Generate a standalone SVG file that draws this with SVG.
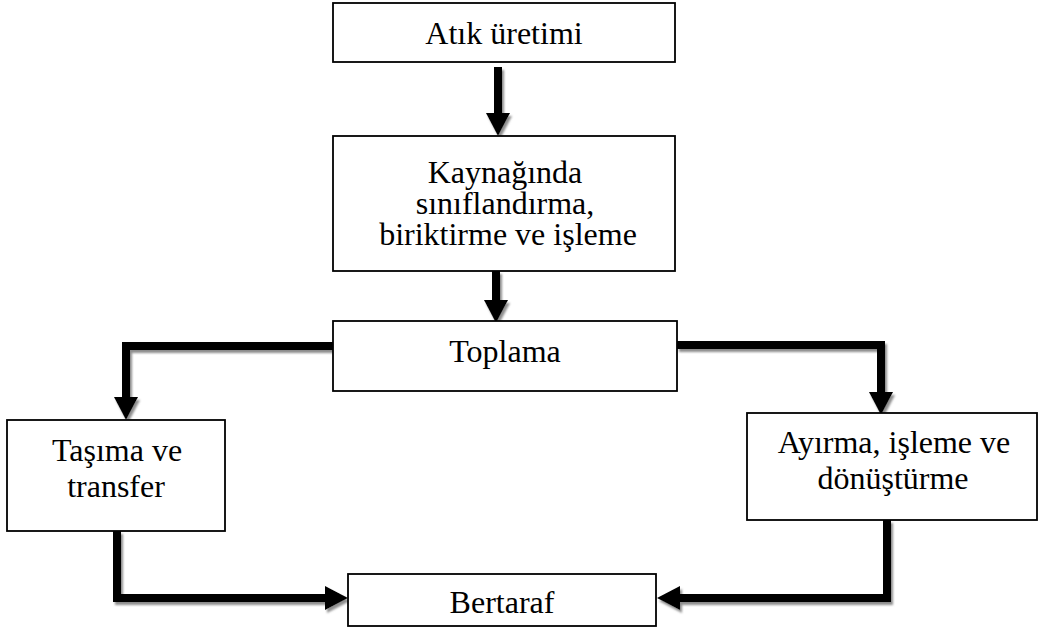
<svg xmlns="http://www.w3.org/2000/svg" width="1039" height="634" viewBox="0 0 1039 634">
<style>
.box{fill:#fff;stroke:#000;stroke-width:1.8}
.lbl{font-family:"Liberation Serif","Times New Roman",serif;font-size:32px;fill:#000;text-anchor:middle}
.con{fill:none;stroke:#000;stroke-width:8;stroke-linejoin:miter;marker-end:url(#ah)}
</style>
<defs>
<marker id="ah" markerUnits="userSpaceOnUse" viewBox="0 0 23 24" refX="0" refY="12" markerWidth="23" markerHeight="24" orient="auto">
<path d="M0,0 L23,12 L0,24 Z" fill="#000"/>
</marker>
<filter id="sh" x="-10%" y="-10%" width="130%" height="130%">
<feDropShadow dx="2" dy="3" stdDeviation="0.8" flood-color="#808080" flood-opacity="0.9"/>
</filter>
</defs>
<rect width="1039" height="634" fill="#fff"/>
<g id="connectors" filter="url(#sh)">
<path class="con" d="M498,67 V113"/>
<path class="con" d="M496,271 V300"/>
<path class="con" d="M333,346 H126 V397"/>
<path class="con" d="M677,345 H881 V392"/>
<path class="con" d="M117,531 V598 H325"/>
<path class="con" d="M887,520 V598 H680"/>
</g>
<g id="atik-uretimi">
<rect class="box" x="333" y="3" width="342" height="59"/>
<text class="lbl" x="504" y="44">Atık üretimi</text>
</g>
<g id="kaynaginda">
<rect class="box" x="333" y="136" width="342" height="135"/>
<text class="lbl" x="505" y="183">Kaynağında</text>
<text class="lbl" x="505" y="214">sınıflandırma,</text>
<text class="lbl" x="508" y="245">biriktirme ve işleme</text>
</g>
<g id="toplama">
<rect class="box" x="333" y="321" width="344" height="70"/>
<text class="lbl" x="505" y="362">Toplama</text>
</g>
<g id="tasima">
<rect class="box" x="7" y="420" width="218" height="111"/>
<text class="lbl" x="117" y="461">Taşıma ve</text>
<text class="lbl" x="116" y="497">transfer</text>
</g>
<g id="ayirma">
<rect class="box" x="747" y="413" width="290" height="107"/>
<text class="lbl" x="894" y="453">Ayırma, işleme ve</text>
<text class="lbl" x="893" y="489">dönüştürme</text>
</g>
<g id="bertaraf">
<rect class="box" x="348" y="574" width="308" height="52"/>
<text class="lbl" x="502" y="613">Bertaraf</text>
</g>
</svg>
